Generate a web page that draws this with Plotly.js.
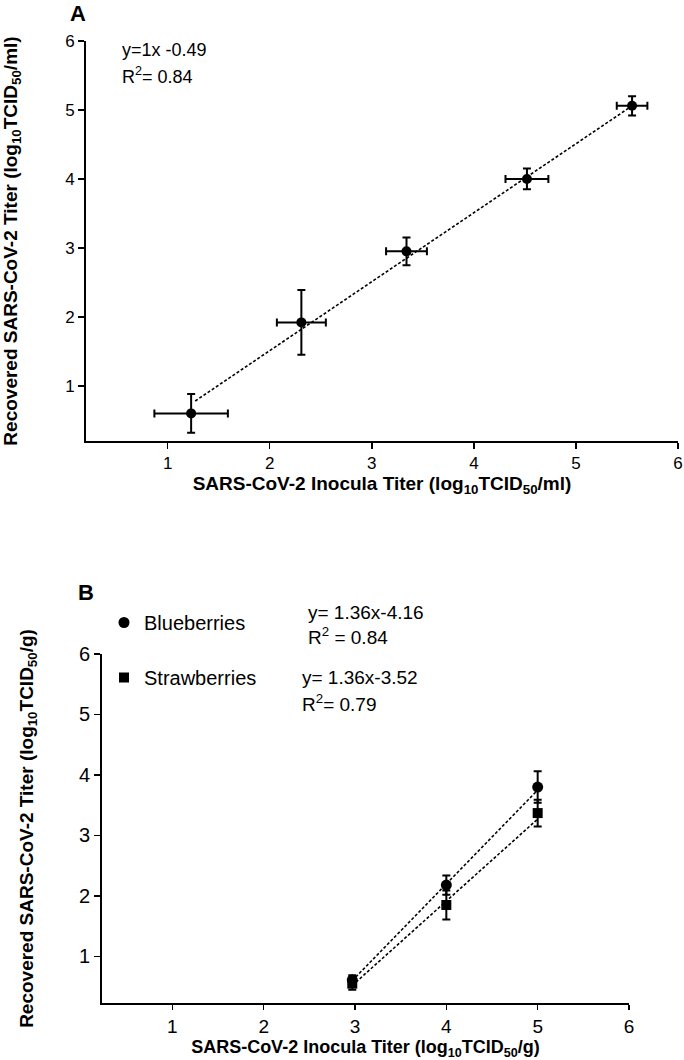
<!DOCTYPE html>
<html><head><meta charset="utf-8">
<script src="https://cdn.plot.ly/plotly-3.0.1.min.js"></script>
<style>body{margin:0;background:#fff}#chart{width:684px;height:1060px}</style>
</head><body><div id="chart"></div>
<script>
// ---- Panel A data ----
const inoculaA = [1.23, 2.31, 3.34, 4.52, 5.55];
const recoveredA = [0.60, 1.92, 2.95, 4.00, 5.06];
const inoculaErrA = [0.36, 0.24, 0.20, 0.21, 0.15];
const recoveredErrA = [0.28, 0.47, 0.20, 0.15, 0.14];
const fitAx = [1.27, 5.55];
const fitAy = [0.78, 5.06];
// ---- Panel B data ----
const inoculaB = [2.97, 4.0, 5.0];
const blueberries = [0.61, 2.18, 3.80];
const blueberriesErr = [0.08, 0.16, 0.26];
const strawberries = [0.55, 1.85, 3.37];
const strawberriesErr = [0.10, 0.24, 0.22];
const fitBlueX = [2.97, 5.0], fitBlueY = [0.60, 3.75];
const fitStrawX = [2.97, 5.0], fitStrawY = [0.52, 3.27];
const tickVals = [1, 2, 3, 4, 5, 6];
const tickText = ['1', '2', '3', '4', '5', '6'];

const W = 684, H = 1060;
const fx = p => p / W, fy = p => 1 - p / H;
const sans = '"Liberation Sans", Arial, sans-serif';

const errStyle = {type: 'data', thickness: 2, width: 4, color: '#000'};
const dashLine = {color: '#000', width: 1.6, dash: '3px,2px'};
const traces = [
  {x: fitAx, y: fitAy, mode: 'lines', line: dashLine, showlegend: false, xaxis: 'x', yaxis: 'y', hoverinfo: 'skip'},
  {x: inoculaA, y: recoveredA, mode: 'markers', marker: {symbol: 'circle', size: 10, color: '#000'},
   error_x: Object.assign({array: inoculaErrA}, errStyle), error_y: Object.assign({array: recoveredErrA}, errStyle),
   showlegend: false, xaxis: 'x', yaxis: 'y'},
  {x: fitBlueX, y: fitBlueY, mode: 'lines', line: dashLine, showlegend: false, xaxis: 'x2', yaxis: 'y2', hoverinfo: 'skip'},
  {x: fitStrawX, y: fitStrawY, mode: 'lines', line: dashLine, showlegend: false, xaxis: 'x2', yaxis: 'y2', hoverinfo: 'skip'},
  {name: 'Blueberries', legendgroup: 'b', x: inoculaB, y: blueberries, mode: 'markers',
   marker: {symbol: 'circle', size: 11, color: '#000'},
   error_y: Object.assign({array: blueberriesErr}, errStyle), xaxis: 'x2', yaxis: 'y2'},
  {name: 'Strawberries', legendgroup: 's', x: inoculaB, y: strawberries, mode: 'markers',
   marker: {symbol: 'square', size: 10, color: '#000'},
   error_y: Object.assign({array: strawberriesErr}, errStyle), xaxis: 'x2', yaxis: 'y2'}
];

const axBase = {showgrid: false, zeroline: false, showline: true, linecolor: '#000', linewidth: 2,
  ticks: 'outside', ticklen: 6, tickwidth: 1.5, tickcolor: '#000', tickvals: tickVals, ticktext: tickText,
  ticklabeloverflow: 'allow'};
const titleFont = {family: sans, size: 19, color: '#000', weight: 'bold'};

const layout = {
  width: W, height: H, margin: {l: 0, r: 0, t: 0, b: 0}, paper_bgcolor: '#fff', plot_bgcolor: '#fff',
  showlegend: true,
  legend: {x: fx(104), y: fy(603), xanchor: 'left', yanchor: 'top', font: {family: sans, size: 20, color: '#000'},
    tracegroupgap: 26, bgcolor: 'rgba(0,0,0,0)', itemwidth: 30},
  xaxis: Object.assign({}, axBase, {domain: [fx(86), fx(678)], range: [0.2, 6], anchor: 'y',
    tickfont: {family: sans, size: 17, color: '#000'},
    title: {text: 'SARS-CoV-2 Inocula Titer (log<sub>10</sub>TCID<sub>50</sub>/ml)', font: titleFont, standoff: 4}}),
  yaxis: Object.assign({}, axBase, {domain: [fy(441), fy(41)], range: [0.2, 6], anchor: 'x',
    tickfont: {family: sans, size: 17, color: '#000'},
    title: {text: 'Recovered SARS-CoV-2 Titer (log<sub>10</sub>TCID<sub>50</sub>/ml)', font: titleFont, standoff: 42}}),
  xaxis2: Object.assign({}, axBase, {domain: [fx(102), fx(629)], range: [0.23, 6], anchor: 'y2',
    tickfont: {family: sans, size: 19, color: '#000'}, ticklen: 5,
    title: {text: 'SARS-CoV-2 Inocula Titer (log<sub>10</sub>TCID<sub>50</sub>/g)', font: {family: sans, size: 18, color: '#000', weight: 'bold'}, standoff: 3}}),
  yaxis2: Object.assign({}, axBase, {domain: [fy(1003), fy(654)], range: [0.23, 6], anchor: 'x2',
    tickfont: {family: sans, size: 20, color: '#000'},
    title: {text: 'Recovered SARS-CoV-2 Titer (log<sub>10</sub>TCID<sub>50</sub>/g)', font: titleFont, standoff: 40}}),
  annotations: [
    {text: '<b>A</b>', xref: 'paper', yref: 'paper', x: fx(68), y: fy(13), xanchor: 'left', yanchor: 'middle', showarrow: false, font: {family: sans, size: 22, color: '#000'}},
    {text: '<b>B</b>', xref: 'paper', yref: 'paper', x: fx(76), y: fy(592), xanchor: 'left', yanchor: 'middle', showarrow: false, font: {family: sans, size: 22, color: '#000'}},
    {text: 'y=1x -0.49', xref: 'paper', yref: 'paper', x: fx(120), y: fy(50), xanchor: 'left', yanchor: 'middle', showarrow: false, font: {family: sans, size: 18, color: '#000'}},
    {text: 'R<sup>2</sup>= 0.84', xref: 'paper', yref: 'paper', x: fx(120), y: fy(75), xanchor: 'left', yanchor: 'middle', showarrow: false, font: {family: sans, size: 18, color: '#000'}},
    {text: 'y= 1.36x-4.16', xref: 'paper', yref: 'paper', x: fx(306), y: fy(612), xanchor: 'left', yanchor: 'middle', showarrow: false, font: {family: sans, size: 19, color: '#000'}},
    {text: 'R<sup>2</sup> = 0.84', xref: 'paper', yref: 'paper', x: fx(306), y: fy(636), xanchor: 'left', yanchor: 'middle', showarrow: false, font: {family: sans, size: 19, color: '#000'}},
    {text: 'y= 1.36x-3.52', xref: 'paper', yref: 'paper', x: fx(300), y: fy(677), xanchor: 'left', yanchor: 'middle', showarrow: false, font: {family: sans, size: 19, color: '#000'}},
    {text: 'R<sup>2</sup>= 0.79', xref: 'paper', yref: 'paper', x: fx(300), y: fy(703), xanchor: 'left', yanchor: 'middle', showarrow: false, font: {family: sans, size: 19, color: '#000'}}
  ]
};
Plotly.newPlot('chart', traces, layout, {displayModeBar: false, staticPlot: true});
</script></body></html>
